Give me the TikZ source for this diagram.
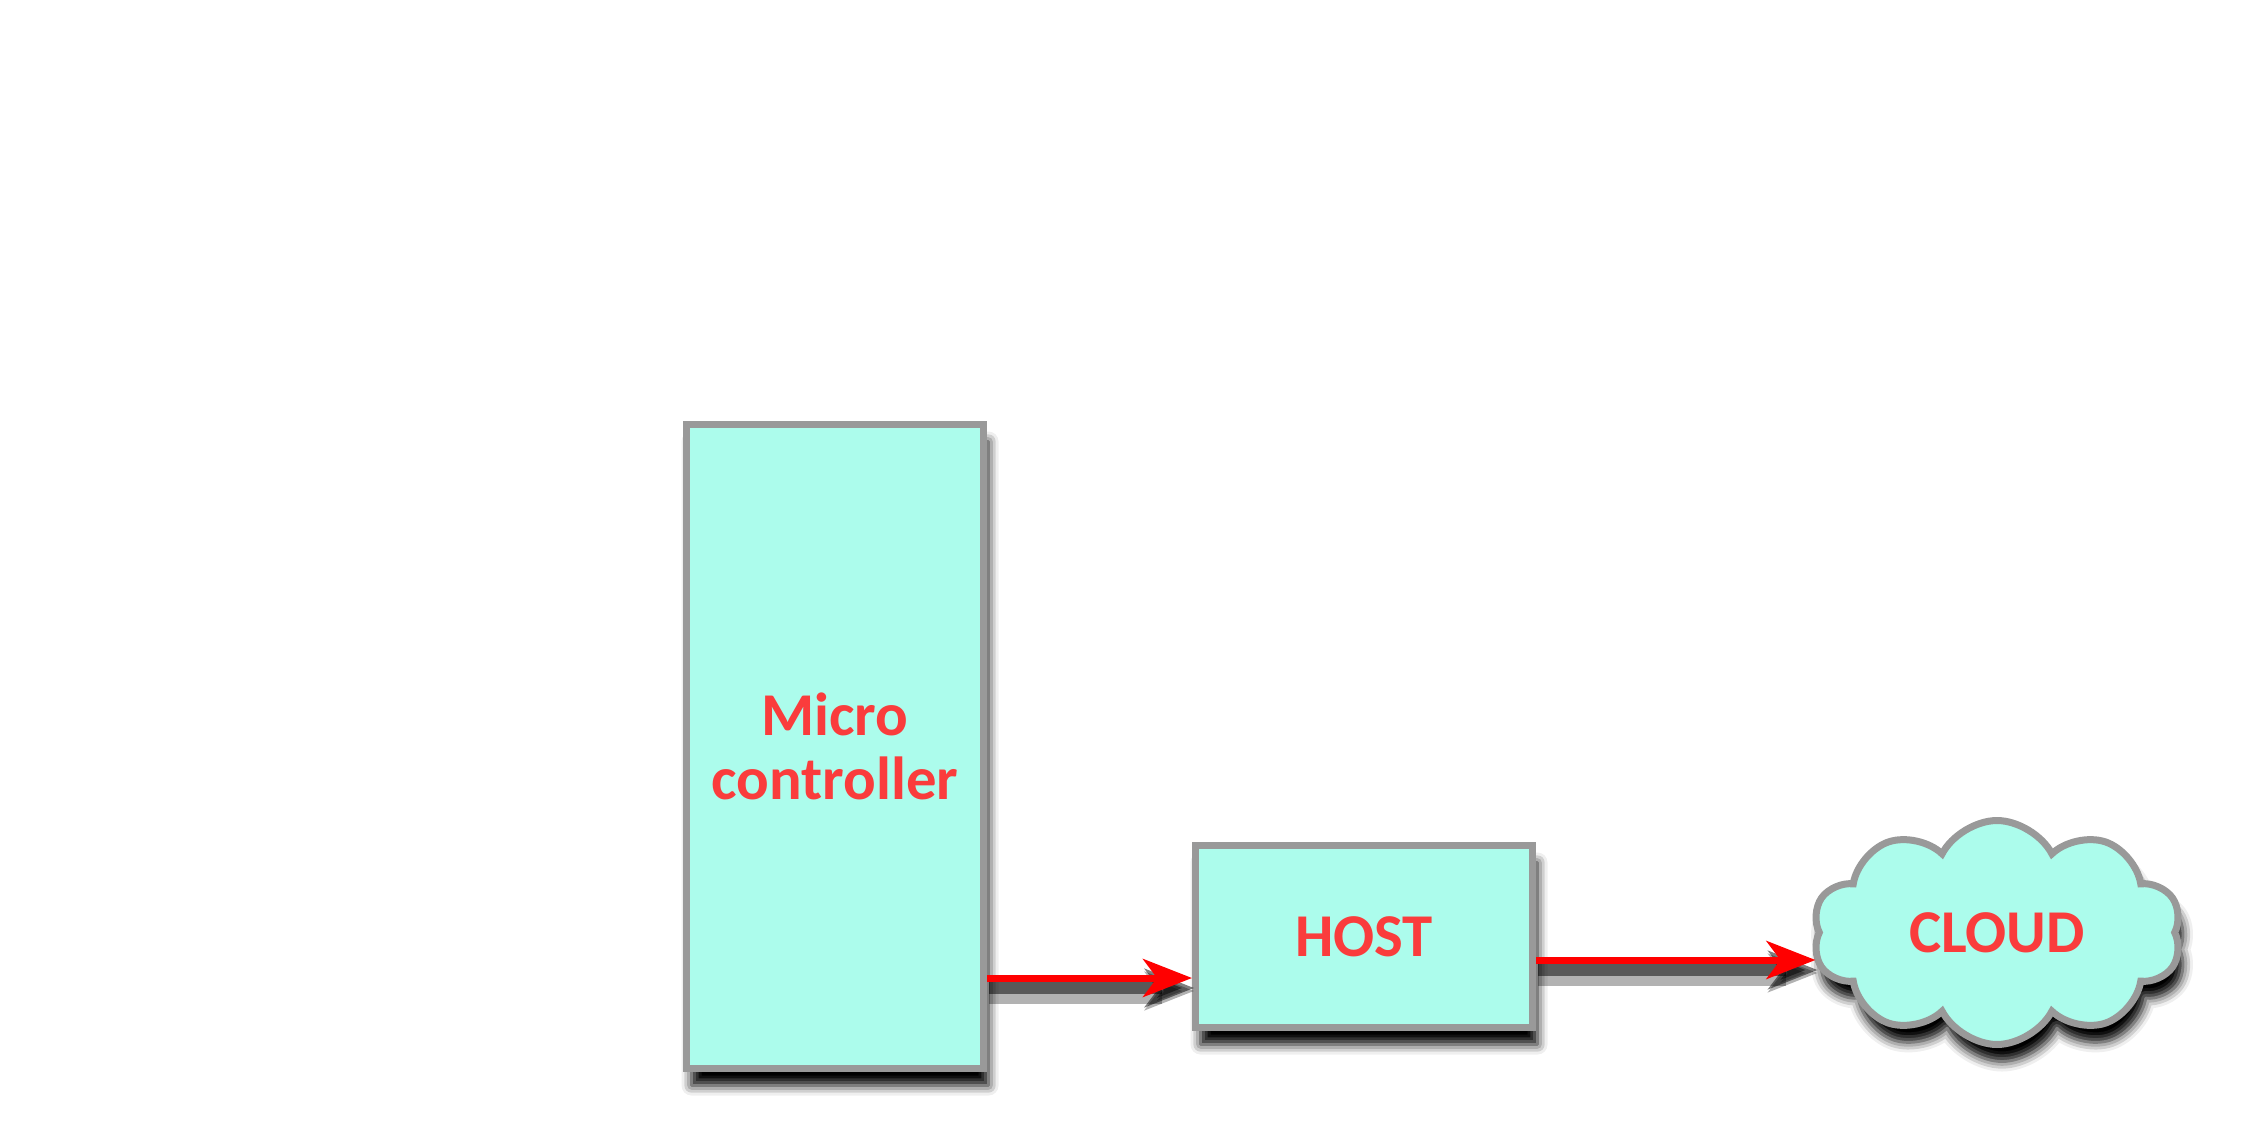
\documentclass[tikz,border=0pt]{standalone}
\usepackage{fontspec}
\setmainfont{Carlito}
\usepackage{tikz}
\usetikzlibrary{positioning}
\usetikzlibrary{shapes.symbols}
\usetikzlibrary{arrows.meta}
\usetikzlibrary{shadows.blur}
\usepackage{xcolor}
\definecolor{boxfill}{RGB}{172,252,236}
\definecolor{boxline}{RGB}{153,153,153}
\definecolor{labelred}{RGB}{250,60,60}

\begin{document}
\begin{tikzpicture}[
	block/.style={draw=boxline, fill=boxfill, line width=0.07cm, text=labelred,
		font=\fontsize{17.3}{18.4}\selectfont\bfseries, align=center,
		blur shadow={shadow xshift=0.05cm, shadow yshift=-0.17cm, shadow blur radius=0.1cm, shadow opacity=100}},
	link/.style={draw=red, line width=0.07cm, -{Stealth[length=4.9mm, width=3.8mm, inset=1.4mm]},
		preaction={draw=black, opacity=0.3, line width=0.26cm, transform canvas={xshift=0.02cm, yshift=-0.13cm}},
		preaction={draw=black, opacity=0.5, line width=0.12cm, transform canvas={xshift=0.02cm, yshift=-0.1cm}}}]
				    		\useasboundingbox (0, 0) rectangle (22.68, -11.23);
				    		\node[block, minimum width=2.97cm, minimum height=6.44cm] (micro) at (8.35, -7.465) {Micro\\controller};
				    		\node[block, minimum width=3.37cm, minimum height=1.82cm] (host) at (13.64, -9.365) {HOST};
				    		\node[block, cloud, cloud puffs=10, cloud puff arc=125, aspect=1.6, inner sep=0pt,
				    			minimum width=3.69cm, minimum height=2.24cm] (cloud) at (19.97, -9.325) {CLOUD};
				    		\coordinate (hostin) at ([yshift=-0.415cm]host.west);
				    		\coordinate (cloudin) at ([yshift=-0.235cm]host.east -| cloud.west);
				    		\draw[link] (micro.east |- hostin) -- (hostin);
				    		\draw[link] (host.east |- cloudin) -- (cloudin);
				    	\end{tikzpicture}
\end{document}
